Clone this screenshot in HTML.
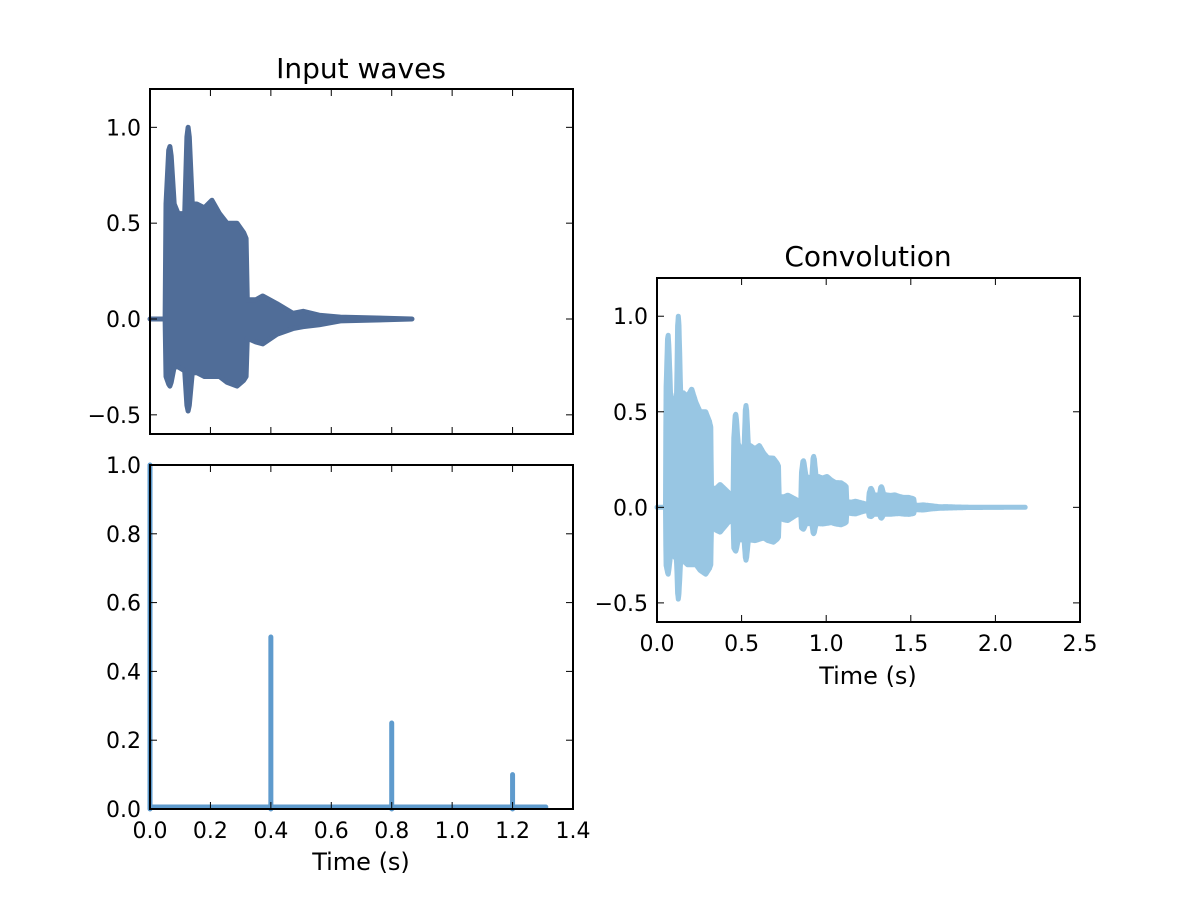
<!DOCTYPE html>
<html><head><meta charset="utf-8"><style>
body{margin:0;background:#fff;}
svg text{font-family:"DejaVu Sans","Liberation Sans",sans-serif;fill:#000;}
</style></head><body>
<svg id="c" width="1200" height="901" viewBox="0 0 1200 901" xmlns="http://www.w3.org/2000/svg"></svg>
<script>
// input wave envelope (time s, upper, lower)
const waveTimes = [0, 0.05, 0.053, 0.062, 0.066, 0.07, 0.08, 0.093, 0.115, 0.122, 0.126, 0.13, 0.14, 0.155, 0.18, 0.205, 0.23, 0.255, 0.288, 0.31, 0.318, 0.322, 0.35, 0.373, 0.42, 0.473, 0.507, 0.56, 0.63, 0.75, 0.867];
const waveUpper = [0, 0, 0.6, 0.88, 0.9, 0.85, 0.6, 0.55, 0.55, 0.95, 1.0, 0.95, 0.6, 0.6, 0.58, 0.62, 0.55, 0.5, 0.5, 0.45, 0.42, 0.1, 0.1, 0.12, 0.08, 0.03, 0.04, 0.02, 0.01, 0.005, 0];
const waveLower = [0, 0, -0.3, -0.34, -0.35, -0.33, -0.25, -0.25, -0.27, -0.45, -0.48, -0.45, -0.28, -0.28, -0.3, -0.3, -0.3, -0.33, -0.35, -0.32, -0.3, -0.1, -0.12, -0.13, -0.08, -0.05, -0.04, -0.03, -0.01, -0.005, 0];
// impulse response
const impulseTimes = [0, 0.4, 0.8, 1.2];
const impulseAmps = [1.0, 0.5, 0.25, 0.1];
const impulseEnd = 1.31;
// ticks
const topYTicks = [-0.5, 0.0, 0.5, 1.0];
const botYTicks = [0.0, 0.2, 0.4, 0.6, 0.8, 1.0];
const leftXTicks = [0.0, 0.2, 0.4, 0.6, 0.8, 1.0, 1.2, 1.4];
const convXTicks = [0.0, 0.5, 1.0, 1.5, 2.0, 2.5];

const svg = document.getElementById('c');
const NS = 'http://www.w3.org/2000/svg';
function mk(tag, attrs, parent){const e=document.createElementNS(NS,tag);for(const k in attrs)e.setAttribute(k,attrs[k]);(parent||svg).appendChild(e);return e;}
function lin(d0,d1,r0,r1){return v=>r0+(v-d0)*(r1-r0)/(d1-d0);}
function env(arr,t){if(t<waveTimes[0]||t>waveTimes[waveTimes.length-1])return 0;for(let i=1;i<waveTimes.length;i++){if(t<=waveTimes[i]){const a=waveTimes[i-1],b=waveTimes[i];const f=b>a?(t-a)/(b-a):1;return arr[i-1]+f*(arr[i]-arr[i-1]);}}return 0;}
function fmt(v){const s=v.toFixed(1);return s.replace('-','\u2212');}

function axes(name,x0,y0,x1,y1,xd,yd,xticks,yticks,showX){
  const g=mk('g',{});
  
  
  const sx=lin(xd[0],xd[1],x0,x1), sy=lin(yd[0],yd[1],y1,y0);
  return {g,sx,sy,finish(){
    const f=mk('rect',{x:x0,y:y0,width:x1-x0,height:y1-y0,fill:'none',stroke:'#000','stroke-width':2},g);
    
    
    yticks.forEach(v=>{const y=sy(v);
      mk('line',{x1:x0,x2:x0+7,y1:y,y2:y,stroke:'#000','stroke-width':1},g);
      mk('line',{x1:x1,x2:x1-7,y1:y,y2:y,stroke:'#000','stroke-width':1},g);
      const t=mk('text',{x:x0-9,y:y+8,'text-anchor':'end','font-size':22},g);t.textContent=fmt(v);
      
      });
    xticks.forEach(v=>{const x=sx(v);
      mk('line',{x1:x,x2:x,y1:y1,y2:y1-7,stroke:'#000','stroke-width':1},g);
      mk('line',{x1:x,x2:x,y1:y0,y2:y0+7,stroke:'#000','stroke-width':1},g);
      if(showX){const t=mk('text',{x:x,y:y1+29,'text-anchor':'middle','font-size':22},g);t.textContent=fmt(v);
      
      }});
  }};
}
function envPath(sx,sy,ts,up,lo){let d='';ts.forEach((t,i)=>{d+=(i?'L':'M')+sx(t).toFixed(1)+','+sy(up[i]).toFixed(1);});
  for(let i=ts.length-1;i>=0;i--)d+='L'+sx(ts[i]).toFixed(1)+','+sy(lo[i]).toFixed(1);return d+'Z';}

// Input waves
const A=axes('input-waves-axes',150,89,573,434,[0,1.4],[-0.6,1.2],leftXTicks,topYTicks,false);
const p1=mk('path',{d:envPath(A.sx,A.sy,waveTimes,waveUpper,waveLower),fill:'#506d98',stroke:'#506d98','stroke-width':5,'stroke-linejoin':'round'},A.g);


A.finish();
const t1=mk('text',{x:361,y:78,'text-anchor':'middle','font-size':28});t1.textContent='Input waves';



// Impulse
const B=axes('impulse-axes',150,465,573,809,[0,1.4],[0,1.0],leftXTicks,botYTicks,true);
let d='M'+B.sx(0)+','+(B.sy(0)-2)+'L'+B.sx(impulseEnd)+','+(B.sy(0)-2);
impulseTimes.forEach((t,i)=>{d+='M'+B.sx(t)+','+B.sy(0)+'L'+B.sx(t)+','+B.sy(impulseAmps[i]);});
const p2=mk('path',{d:d,fill:'none',stroke:'#5f9bcd','stroke-width':5,'stroke-linecap':'round'},B.g);


B.finish();
const xl1=mk('text',{x:361,y:870,'text-anchor':'middle','font-size':24});xl1.textContent='Time (s)';



// Convolution
const C=axes('convolution-axes',657,278,1080,622,[0,2.5],[-0.6,1.2],convXTicks,topYTicks,true);
const ct=[],cu=[],cl=[];
const tEnd=waveTimes[waveTimes.length-1]+impulseEnd;
for(let t=0;t<=tEnd+1e-9;t+=0.002){let u=0,l=0;impulseTimes.forEach((s,i)=>{u+=impulseAmps[i]*env(waveUpper,t-s);l+=impulseAmps[i]*env(waveLower,t-s);});ct.push(t);cu.push(u);cl.push(l);}
const p3=mk('path',{d:envPath(C.sx,C.sy,ct,cu,cl),fill:'#98c6e3',stroke:'#98c6e3','stroke-width':5,'stroke-linejoin':'round'},C.g);


C.finish();
const t2=mk('text',{x:868,y:266,'text-anchor':'middle','font-size':28});t2.textContent='Convolution';


const xl2=mk('text',{x:868,y:684,'text-anchor':'middle','font-size':24});xl2.textContent='Time (s)';


</script>
</body></html>
